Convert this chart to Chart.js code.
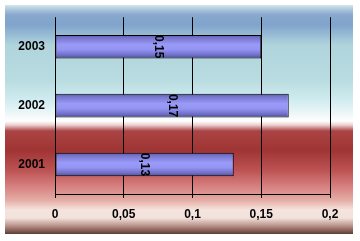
<!DOCTYPE html>
<html>
<head>
<meta charset="utf-8">
<script src="https://cdn.jsdelivr.net/npm/chart.js@4/dist/chart.umd.min.js"></script>
<style>
html,body{margin:0;padding:0;background:#fff;}
#wrap{width:360px;height:241px;position:relative;}
</style>
</head>
<body>
<div id="wrap"><canvas id="c" width="360" height="241"></canvas></div>
<script>
const categories = ['2003', '2002', '2001'];
const values = [0.15, 0.17, 0.13];
const xTicks = [0, 0.05, 0.1, 0.15, 0.2];

function fmt(v){ return String(Math.round(v*100)/100).replace('.', ','); }

const bgPlugin = {
  id: 'bg',
  beforeDraw(chart){
    const c = chart.ctx;
    const x0 = 5, y0 = 5, x1 = 353, y1 = 234, h = y1 - y0;
    const g = c.createLinearGradient(0, y0, 0, y1);
    const stops = [
      [5,'#d4e6ec'],[10,'#a8c4dc'],[15,'#88a8cc'],[25,'#80a4cc'],[35,'#98bcd4'],
      [45,'#b0d4dc'],[80,'#b8dce0'],[100,'#d0ecf0'],[115,'#f0f8f8'],[121,'#ffffff'],
      [125,'#ecd0d0'],[131,'#aa4444'],[150,'#a03434'],[170,'#bc5252'],[185,'#d47c7c'],
      [200,'#e4aca4'],[210,'#f6e4de'],[218,'#f2e2dc'],[226,'#b89088'],[234,'#5c3c34']
    ];
    stops.forEach(s => g.addColorStop((s[0]-y0)/h, s[1]));
    c.save();
    c.fillStyle = g;
    c.fillRect(x0, y0, x1 - x0, y1 - y0);
    c.restore();
  }
};

const labelPlugin = {
  id: 'barLabels',
  afterDatasetsDraw(chart){
    const c = chart.ctx;
    const meta = chart.getDatasetMeta(0);
    c.save();
    c.fillStyle = '#000';
    c.font = 'bold 12px "Liberation Sans", Arial, sans-serif';
    c.textAlign = 'center';
    c.textBaseline = 'middle';
    meta.data.forEach((el, i) => {
      const cx = (el.x + el.base) / 2;
      c.save();
      c.translate(cx, el.y);
      c.rotate(Math.PI / 2);
      c.fillText(fmt(values[i]), 0, 0);
      c.restore();
    });
    c.restore();
  }
};

function barFill(ctx){
  const chart = ctx.chart;
  const ys = chart.scales && chart.scales.y;
  if (!chart.chartArea || !ys || ys.getPixelForValue(ctx.dataIndex) === undefined) return '#8c8cec';
  const y = ys.getPixelForValue(ctx.dataIndex);
  const hh = 12;
  const g = chart.ctx.createLinearGradient(0, y - hh, 0, y + hh);
  g.addColorStop(0, '#5a5aa8');
  g.addColorStop(0.15, '#7878d0');
  g.addColorStop(0.42, '#9a9af8');
  g.addColorStop(0.62, '#9494f4');
  g.addColorStop(0.85, '#7070c8');
  g.addColorStop(1, '#48488e');
  return g;
}

new Chart(document.getElementById('c'), {
  type: 'bar',
  data: {
    labels: categories,
    datasets: [{
      data: values,
      backgroundColor: barFill,
      borderColor: '#000',
      borderWidth: 1,
      borderSkipped: false,
      categoryPercentage: 1,
      barPercentage: 0.4
    }]
  },
  options: {
    indexAxis: 'y',
    responsive: false,
    animation: false,
    events: [],
    layout: { padding: { left: 0, right: 30, top: 15, bottom: 0 } },
    plugins: { legend: { display: false }, tooltip: { enabled: false } },
    scales: {
      x: {
        min: 0, max: 0.2,
        afterBuildTicks(scale){ scale.ticks = xTicks.map(v => ({ value: v })); },
        afterFit(scale){ scale.height = 47; },
        grid: { color: '#000', lineWidth: 1, drawOnChartArea: true, drawTicks: true, tickLength: 4 },
        border: { display: true, color: '#000', width: 1 },
        ticks: {
          color: '#000',
          padding: 9,
          maxRotation: 0,
          autoSkip: false,
          font: { family: '"Liberation Sans", Arial, sans-serif', size: 12, weight: 'bold' },
          callback: (v) => fmt(v)
        }
      },
      y: {
        afterFit(scale){ scale.width = 55; },
        grid: { display: false, drawTicks: false, tickLength: 0 },
        border: { display: false },
        ticks: {
          color: '#000',
          padding: 10,
          font: { family: '"Liberation Sans", Arial, sans-serif', size: 12, weight: 'bold' }
        }
      }
    }
  },
  plugins: [bgPlugin, labelPlugin]
});
</script>
</body>
</html>
